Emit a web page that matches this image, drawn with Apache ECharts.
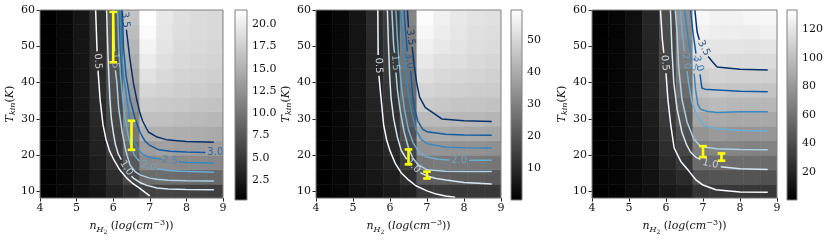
<!DOCTYPE html>
<html><head><meta charset="utf-8">
<script src="https://cdn.jsdelivr.net/npm/echarts@6.0.0/dist/echarts.min.js"></script>
<style>html,body{margin:0;padding:0;background:#fff;}#chart{width:830px;height:240px;}</style>
</head><body><div id="chart"></div>
<script>
// ---------------- data ----------------
const nGrid = [4, 4.5, 5, 5.5, 6, 6.5, 7, 7.5, 8, 8.5, 9];          // log n(H2) grid (11 columns, image extent 4..9)
const tRows = [10, 14, 18, 22, 26, 30, 34, 38, 42, 46, 50, 54, 58]; // T_kin row centres (4 K bands)
const xTicks = [4, 5, 6, 7, 8, 9];
const yTicks = [10, 20, 30, 40, 50, 60];
const xRange = [4, 9];
const yRange = [8.2, 60];
const levels = [0.5, 1.0, 1.5, 2.0, 2.5, 3.0, 3.5];

// heatmap values, one array per density column, T ascending
const heat1 = [
  [0.3,0.3,0.3,0.3,0.3,0.3,0.3,0.3,0.3,0.3,0.3,0.3,0.3],
  [0.8,0.8,0.9,0.9,0.9,0.9,0.9,0.9,0.9,0.9,0.9,0.9,0.9],
  [1.5,1.6,1.7,1.7,1.8,1.8,1.9,1.9,1.9,1.9,2.0,2.0,2.0],
  [2.0,2.4,2.8,3.0,3.3,3.5,3.7,3.9,3.9,4.1,4.1,4.3,4.3],
  [3.2,4.1,4.7,5.4,5.8,6.2,6.7,6.9,7.1,7.3,7.5,7.7,7.9],
  [4.3,6.2,7.7,9.0,10.3,11.4,12.4,13.3,14.1,14.8,15.4,16.1,16.5],
  [5.8,9.2,11.8,13.5,15.0,16.3,17.3,18.2,19.1,19.9,20.6,21.2,21.6],
  [6.0,9.4,12.0,13.7,15.0,16.3,17.1,17.8,18.4,18.9,19.3,19.5,19.7],
  [5.8,9.2,11.8,13.5,14.8,16.0,16.9,17.5,18.0,18.4,18.6,18.8,18.9],
  [5.7,9.1,11.7,13.4,14.7,15.8,16.7,17.3,17.8,18.2,18.4,18.6,18.6],
  [5.6,9.0,11.6,13.3,14.5,15.6,16.5,17.1,17.6,18.0,18.2,18.4,18.4]
];
const heat2 = [
  [0.2,0.2,0.2,0.2,0.2,0.2,0.2,0.2,0.2,0.2,0.2,0.2,0.2],
  [1.5,1.6,1.7,1.8,1.8,1.8,1.8,1.8,1.8,1.8,1.8,1.8,1.8],
  [3.6,4.0,4.2,4.4,4.6,4.7,4.8,4.8,4.8,4.8,4.8,4.8,4.8],
  [4.2,5.4,6.0,6.5,7.1,7.7,8.3,9.0,9.0,9.5,9.5,10.1,10.1],
  [6.0,7.1,8.3,9.5,10.7,11.3,11.9,12.5,13.1,13.7,13.7,14.2,14.2],
  [7.8,11.3,14.3,16.7,19.0,21.4,23.2,25.0,26.1,27.3,28.5,29.7,30.8],
  [13.1,21.4,28.0,33.9,39.2,43.4,46.9,49.3,51.6,54.0,55.8,57.5,58.7],
  [13.7,22.0,28.5,34.5,39.8,43.4,46.3,48.7,50.5,52.2,54.0,55.2,55.8],
  [13.1,21.4,28.0,33.9,39.2,42.8,45.7,48.1,49.9,51.6,52.8,53.4,54.0],
  [13.1,21.4,28.0,33.9,39.2,42.8,45.7,47.5,49.3,50.5,51.6,52.2,52.8],
  [13.1,20.8,27.4,33.3,38.6,42.2,45.1,47.5,48.7,49.9,51.0,51.6,52.2]
];
const heat3 = [
  [0.4,0.4,0.4,0.4,0.4,0.4,0.4,0.4,0.4,0.4,0.4,0.4,0.4],
  [2.2,2.4,2.6,2.7,2.7,2.7,2.7,2.7,2.7,2.7,2.7,2.7,2.7],
  [5.2,5.6,6.0,6.4,6.7,7.0,7.2,7.4,7.6,7.8,8.0,8.0,8.0],
  [8.0,9.3,10.7,12.0,13.4,14.7,16.0,17.4,17.4,18.7,18.7,20.0,20.0],
  [13.4,17.4,21.4,24.0,26.7,29.4,32.0,33.4,34.7,36.0,37.4,38.7,40.1],
  [16.0,22.7,29.4,36.0,41.4,46.7,50.7,56.1,60.1,64.1,68.1,72.1,74.8],
  [28.0,42.7,56.1,66.8,77.4,86.8,94.8,101.5,108.1,114.8,120.2,125.5,129.5],
  [29.4,44.1,57.4,69.4,80.1,89.4,97.5,104.1,110.8,116.1,120.2,124.2,126.8],
  [29.4,44.1,57.4,69.4,78.8,88.1,96.1,102.8,109.5,114.8,120.2,124.2,126.8],
  [29.4,44.1,57.4,68.1,78.8,88.1,96.1,102.8,109.5,114.8,118.8,124.2,128.2],
  [29.4,42.7,56.1,68.1,78.8,88.1,96.1,102.8,109.5,114.8,120.2,125.5,129.5]
];

// colour-bar ranges and ticks
const cbRange1 = [0.26, 21.6];
const cbRange2 = [0.13, 59.3];
const cbRange3 = [0.1, 133.6];
const cbTicks1 = [2.5, 5.0, 7.5, 10.0, 12.5, 15.0, 17.5, 20.0];
const cbTicks2 = [10, 20, 30, 40, 50];
const cbTicks3 = [20, 40, 60, 80, 100, 120];

// contour lines: per level, list of segments of [n, T]
const contours1 = [
  [[[5.52,60],[5.56,48.6]], [[5.585,43.3],[5.61,40],[5.64,35.5],[5.72,28.5],[5.8,24.5],[5.9,21.2],[6.0,19.1],[6.18,16],[6.37,13.7],[6.55,12.1],[6.73,10.9],[6.88,9.7],[7.0,8.8]]],
  [[[5.82,60],[5.85,50],[5.88,42],[5.91,35.5],[5.95,30],[6.0,26.4],[6.06,23],[6.14,20.3],[6.22,18.8]], [[6.5,14.3],[6.55,13.7],[6.73,12.5],[6.92,11.7],[7.2,11.0],[7.5,10.7],[8.0,10.55],[8.75,10.5]]],
  [[[6.0,60],[6.03,50],[6.04,48.6]], [[6.06,43.4],[6.1,40],[6.15,33],[6.25,26],[6.35,21],[6.46,17.3],[6.6,15.5],[6.73,14.6],[7.0,13.7],[7.19,13.4],[7.5,13.1],[8.0,13.0],[8.75,12.9]]],
  [[[6.12,60],[6.15,50],[6.2,42],[6.26,35.5],[6.33,30],[6.4,26],[6.48,22.5],[6.58,20],[6.72,18.3]], [[7.2,16.3],[7.5,15.8],[7.83,15.6],[8.75,15.3]]],
  [[[6.19,60],[6.22,50],[6.28,42],[6.37,35.5],[6.45,30],[6.52,25.5],[6.6,23],[6.72,21],[6.85,20],[7.0,19.4],[7.32,18.9]], [[7.78,18.15],[8.0,18.0],[8.75,17.9]]],
  [[[6.25,60],[6.28,50],[6.35,42],[6.46,35.5],[6.6,30],[6.73,26.4],[6.86,24],[7.0,22.7],[7.25,21.5],[7.55,21.1],[8.0,20.9],[8.52,20.75]]],
  [[[6.36,54.6],[6.45,47],[6.55,40],[6.64,35.5],[6.72,32],[6.8,29.5],[6.96,26.4],[7.2,25],[7.45,24.3],[8.0,23.8],[8.75,23.6]]]
];
const contours2 = [
  [[[5.67,60],[5.68,47.6]], [[5.7,41.9],[5.76,35.5],[5.83,28.2],[5.91,24.2],[6.0,21.2],[6.15,17.6],[6.3,15.2],[6.5,13.2],[6.7,11.6],[7.0,10.2],[7.25,9.3],[7.5,8.8],[7.76,8.45]]],
  [[[5.93,60],[5.96,50],[5.99,42],[6.03,35.5],[6.1,30],[6.2,25],[6.3,21.4],[6.45,18.9]], [[6.82,15.2],[7.0,14.3],[7.25,13.6],[7.52,13.2],[8.0,12.5],[8.75,12.1]]],
  [[[6.05,60],[6.1,50],[6.125,48.2]], [[6.16,42.8],[6.2,38],[6.28,32],[6.38,26.5],[6.5,22],[6.62,19.2],[6.75,17.5],[7.0,16.0],[7.5,15.6],[8.0,15.5],[8.75,15.5]]],
  [[[6.16,60],[6.2,52],[6.25,45],[6.32,38],[6.4,32],[6.5,27],[6.62,23.5],[6.8,20.6],[7.0,19.5],[7.3,18.9],[7.6,18.7]], [[8.14,18.6],[8.75,18.6]]],
  [[[6.28,60],[6.34,52],[6.4,45],[6.48,38],[6.58,32],[6.7,27],[6.85,24.3],[7.0,23.2],[7.5,22.2],[8.0,22.05],[8.75,22.0]]],
  [[[6.38,60],[6.42,54],[6.47,48.6]], [[6.56,43.2],[6.6,38],[6.66,33],[6.75,29.5],[6.88,27.2],[7.0,26.5],[7.5,25.8],[8.0,25.6],[8.75,25.5]]],
  [[[6.47,60],[6.5,55.2]], [[6.6,49.8],[6.65,45],[6.72,40],[6.8,36],[6.95,33.2],[7.4,30],[8.0,29.5],[8.75,29.3]]]
];
const contours3 = [
  [[[5.85,60],[5.9,52],[5.94,48.2]], [[6.0,42.6],[6.05,35.5],[6.13,28.2],[6.22,22],[6.4,18.3],[6.63,15.5],[6.8,13.3],[7.0,11.8],[7.35,10.5],[8.0,9.9],[8.75,9.8]]],
  [[[6.12,60],[6.16,49],[6.21,40],[6.3,32.7],[6.43,26.4],[6.55,23],[6.66,20.9],[6.8,19.5],[6.93,18.9]], [[7.48,16.8],[8.0,16.3],[8.75,16.1]]],
  [[[6.25,60],[6.3,53.6],[6.34,44.5],[6.43,35.5],[6.57,29.1],[6.75,24.5],[6.9,22.8],[7.02,22.3],[7.38,21.8],[8.0,21.6],[8.75,21.5]]],
  [[[6.39,60],[6.45,52.5],[6.5,48.6]], [[6.57,43.2],[6.61,40],[6.7,34.5],[6.84,30.9],[7.02,28.2],[7.38,27.3],[8.0,26.8],[8.75,26.7]]],
  [[[6.5,60],[6.6,52],[6.67,48]], [[6.76,42.5],[6.8,38],[6.86,34],[6.93,32.7],[7.1,32.1],[7.38,31.8],[8.0,32.0],[8.75,32.0]]],
  [[[6.66,60],[6.74,53],[6.81,48]], [[6.92,42.3],[6.97,38.5],[7.05,38.2],[7.38,38.0],[8.0,37.6],[8.75,37.5]]],
  [[[6.78,60],[6.84,54],[6.9,51.8]], [[7.14,47.2],[7.25,45.8],[7.38,44.3],[8.0,43.7],[8.75,43.5]]]
];

// inline contour labels: [level, n, T, rotation in degrees]
const labels1 = [[0.5,5.575,45.9,-87],[1.0,6.36,16.5,-57],[1.5,6.05,46,-86],[2.0,6.96,17.0,-18],[2.5,7.55,18.55,-6],[3.0,8.79,20.7,0],[3.5,6.33,57.3,-83]];
const labels2 = [[0.5,5.69,44.7,-88],[1.0,6.63,17.0,-45],[1.5,6.14,45.5,-85],[2.0,7.87,18.6,0],[3.0,6.52,46,-82],[3.5,6.55,52.5,-82]];
const labels3 = [[0.5,5.97,45.4,-85],[1.0,7.2,17.6,-12],[2.0,6.54,45.9,-82],[2.5,6.72,45.3,-78],[3.0,6.87,45.2,-74],[3.5,7.02,49.5,-62]];

// observed T ranges (error bars): [n, T low, T high]
const err1 = [[6.0,45.6,59.5],[6.5,21.5,29.5]];
const err2 = [[6.5,17.5,21.6],[7.0,13.6,15.5]];
const err3 = [[7.0,19.5,22.5],[7.5,18.5,20.5]];

// ---------------- chart ----------------
const panels = [
  {heat: heat1, cb: cbRange1, cbTicks: cbTicks1, cont: contours1, labels: labels1, err: err1, fmt: v => v.toFixed(1)},
  {heat: heat2, cb: cbRange2, cbTicks: cbTicks2, cont: contours2, labels: labels2, err: err2, fmt: v => String(v)},
  {heat: heat3, cb: cbRange3, cbTicks: cbTicks3, cont: contours3, labels: labels3, err: err3, fmt: v => String(v)}
];
const plotRects = [[40,10,183,190],[316,10,185,190],[592,10,185,190]];
const cbRects = [[235,10,12,190],[511,10,11,190],[787,10,10,190]];
const levelColors = ['#f7fbff','#d6e6f4','#abd0e6','#6aaed6','#3787c0','#105ba4','#08306b'];
const txt = '#111';
const serif = 'DejaVu Serif';

function gray(v, r) {
  const f = Math.max(0, Math.min(1, (v - r[0]) / (r[1] - r[0])));
  const g = Math.round(f * 255);
  return 'rgb(' + g + ',' + g + ',' + g + ')';
}

const nameRich = {
  i: {fontFamily: serif, fontStyle: 'italic', fontSize: 11, color: txt},
  p: {fontFamily: serif, fontSize: 11, color: txt},
  s: {fontFamily: serif, fontStyle: 'italic', fontSize: 8, color: txt, padding: [6,0,0,0]},
  ss: {fontFamily: serif, fontSize: 6, color: txt, padding: [11,0,0,0]},
  sup: {fontFamily: serif, fontSize: 8, color: txt, padding: [0,0,7,0]}
};
const xName = '{i|n}{s|H}{ss|2}{p| (}{i|log}{p|(}{i|cm}{sup|−3}{p|))}';
const yName = '{i|T}{s|kin}{p|(}{i|K}{p|)}';

const grids = [], xAxes = [], yAxes = [], series = [];
const tickStyle = {lineStyle: {color: '#222', width: 1}, length: 3.5, inside: false};
const labelFont = {fontFamily: serif, fontSize: 11, color: txt};

panels.forEach((P, p) => {
  const r = plotRects[p];
  grids.push({left: r[0], top: r[1], width: r[2], height: r[3], show: true, borderColor: '#808080', borderWidth: 1, backgroundColor: 'transparent', z: 10});
});
panels.forEach((P, p) => {
  const r = cbRects[p];
  grids.push({left: r[0], top: r[1], width: r[2], height: r[3], show: true, borderColor: '#808080', borderWidth: 1, backgroundColor: 'transparent', z: 10});
});

panels.forEach((P, p) => {
  xAxes.push({
    gridIndex: p, type: 'value', min: xRange[0], max: xRange[1],
    axisLine: {show: false}, splitLine: {show: false},
    axisTick: Object.assign({show: true, customValues: xTicks}, tickStyle),
    axisLabel: Object.assign({show: true, margin: 5, customValues: xTicks}, labelFont),
    name: xName, nameLocation: 'middle', nameGap: 19,
    nameTextStyle: {rich: nameRich}
  });
  yAxes.push({
    gridIndex: p, type: 'value', min: yRange[0], max: yRange[1],
    axisLine: {show: false}, splitLine: {show: false},
    axisTick: Object.assign({show: true, customValues: yTicks}, tickStyle),
    axisLabel: Object.assign({show: true, margin: 5, customValues: yTicks}, labelFont),
    name: yName, nameLocation: 'middle', nameGap: 22, nameRotate: 90,
    nameTextStyle: {rich: nameRich}
  });
});
panels.forEach((P, p) => {
  xAxes.push({gridIndex: 3 + p, type: 'value', min: 0, max: 1, show: false});
  yAxes.push({
    gridIndex: 3 + p, type: 'value', position: 'right', min: P.cb[0], max: P.cb[1],
    axisLine: {show: false}, splitLine: {show: false},
    axisTick: Object.assign({show: true, customValues: P.cbTicks}, tickStyle),
    axisLabel: Object.assign({show: true, margin: 5, customValues: P.cbTicks, formatter: P.fmt}, labelFont)
  });
});

panels.forEach((P, p) => {
  // heatmap cells
  const cellW = (xRange[1] - xRange[0]) / nGrid.length;
  const halfT = (tRows[1] - tRows[0]) / 2;
  const hdata = [];
  P.heat.forEach((col, i) => col.forEach((v, j) => hdata.push([i, j, v])));
  series.push({
    type: 'custom', xAxisIndex: p, yAxisIndex: p, z: 1, clip: true, silent: true,
    data: hdata,
    renderItem: (params, api) => {
      const i = api.value(0), j = api.value(1), v = api.value(2);
      const x0 = xRange[0] + i * cellW, x1 = x0 + cellW;
      const tc = tRows[j];
      const a = api.coord([x0, tc + halfT]);
      const b = api.coord([x1, tc - halfT]);
      const c = gray(v, P.cb);
      return {type: 'rect', shape: {x: a[0], y: a[1], width: b[0] - a[0], height: b[1] - a[1]},
        style: {fill: c, stroke: c, lineWidth: 0.6}};
    }
  });
  // contour lines
  P.cont.forEach((segs, k) => {
    segs.forEach(seg => {
      series.push({
        type: 'line', xAxisIndex: p, yAxisIndex: p, z: 3, silent: true, clip: true,
        data: seg, symbol: 'none', smooth: false,
        lineStyle: {color: levelColors[k], width: 1.5}
      });
    });
  });
  // contour labels
  series.push({
    type: 'scatter', xAxisIndex: p, yAxisIndex: p, z: 4, silent: true, symbolSize: 0,
    data: P.labels.map(L => {
      const k = levels.indexOf(L[0]);
      return {value: [L[1], L[2]], label: {show: true, position: 'inside', formatter: L[0].toFixed(1),
        rotate: L[3], color: levelColors[k], fontFamily: 'DejaVu Sans', fontSize: 10}};
    })
  });
  // error bars
  series.push({
    type: 'custom', xAxisIndex: p, yAxisIndex: p, z: 6, silent: true,
    data: P.err,
    renderItem: (params, api) => {
      const top = api.coord([api.value(0), api.value(2)]);
      const bot = api.coord([api.value(0), api.value(1)]);
      const hw = 3.8;
      const st = {stroke: '#ffff00', lineWidth: 2.6};
      return {type: 'group', children: [
        {type: 'line', shape: {x1: top[0], y1: top[1], x2: bot[0], y2: bot[1]}, style: st},
        {type: 'line', shape: {x1: top[0] - hw, y1: top[1], x2: top[0] + hw, y2: top[1]}, style: st},
        {type: 'line', shape: {x1: bot[0] - hw, y1: bot[1], x2: bot[0] + hw, y2: bot[1]}, style: st}
      ]};
    }
  });
  // colour bar
  series.push({
    type: 'custom', xAxisIndex: 3 + p, yAxisIndex: 3 + p, z: 1, silent: true,
    data: [[0, P.cb[0], P.cb[1]]],
    renderItem: (params, api) => {
      const a = api.coord([0, api.value(2)]);
      const b = api.coord([1, api.value(1)]);
      return {type: 'rect', shape: {x: a[0], y: a[1], width: b[0] - a[0], height: b[1] - a[1]},
        style: {fill: new echarts.graphic.LinearGradient(0, 0, 0, 1, [{offset: 0, color: '#ffffff'}, {offset: 1, color: '#000000'}])}};
    }
  });
});

const chart = echarts.init(document.getElementById('chart'), null, {renderer: 'canvas'});
chart.setOption({
  animation: false,
  backgroundColor: '#ffffff',
  grid: grids, xAxis: xAxes, yAxis: yAxes, series: series
});
</script></body></html>
